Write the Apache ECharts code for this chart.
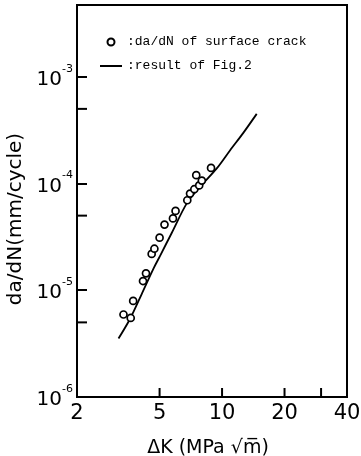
<!DOCTYPE html>
<html>
<head>
<meta charset="utf-8">
<script src="https://cdn.jsdelivr.net/npm/echarts@6/dist/echarts.min.js"></script>
<style>
html,body{margin:0;padding:0;background:#fff;}
#chart{width:361px;height:456px;}
</style>
</head>
<body>
<div id="chart"></div>
<script>
// ---- data ----
const xRange = [2, 40];
const yRange = [1e-6, 4.7e-3];
const xTickValues = [5, 10, 20, 30];
const xLabelValues = [2, 5, 10, 20, 40];
const yMinorTicks = [5e-6, 5e-5, 5e-4];

const surfaceDK = [3.35, 3.63, 3.73, 4.16, 4.30, 4.58, 4.72, 5.00, 5.28, 5.80, 5.97, 6.80, 7.01, 7.35, 7.51, 7.76, 7.99, 8.85];
const surfaceRate = [5.93e-6, 5.50e-6, 7.94e-6, 1.22e-5, 1.44e-5, 2.19e-5, 2.45e-5, 3.11e-5, 4.12e-5, 4.71e-5, 5.54e-5, 6.97e-5, 8.04e-5, 8.84e-5, 1.196e-4, 9.60e-5, 1.065e-4, 1.40e-4];

const fig2DK = [3.17, 3.60, 4.10, 4.66, 5.02, 5.72, 6.76, 7.83, 9.43, 10.92, 12.66, 14.69];
const fig2Rate = [3.53e-6, 5.38e-6, 9.22e-6, 1.58e-5, 2.09e-5, 3.44e-5, 6.51e-5, 9.29e-5, 1.385e-4, 2.04e-4, 2.98e-4, 4.49e-4];

const nameSurface = ':da/dN of surface crack';
const nameFig2 = ':result of Fig.2';

const chart = echarts.init(document.getElementById('chart'), null, {renderer: 'canvas'});

const option = {
  backgroundColor: '#fff',
  animation: false,
  grid: {left: 77, right: 14, top: 5, bottom: 59, containLabel: false, outerBoundsMode: 'none', show: true, borderColor: '#000', borderWidth: 2, backgroundColor: 'transparent'},
  legend: {
    data: [
      {name: nameSurface, icon: 'circle'},
      {name: nameFig2, icon: 'path://M0,0 L22,0 L22,2 L0,2 Z'}
    ],
    orient: 'vertical',
    left: 95,
    top: 29,
    itemWidth: 22,
    itemHeight: 7,
    itemGap: 8,
    textStyle: {fontFamily: 'Liberation Mono', fontSize: 13, color: '#000', lineHeight: 16}
  },
  xAxis: {
    type: 'log',
    logBase: 10,
    min: xRange[0],
    max: xRange[1],
    axisLine: {show: false},
    axisTick: {show: false},
    axisLabel: {show: false},
    splitLine: {show: false},
    name: 'ΔK (MPa √m\u0305)',
    nameLocation: 'middle',
    nameGap: 42,
    nameTextStyle: {fontFamily: 'DejaVu Sans', fontSize: 19, color: '#000', padding: [0, 8, 0, 0]}
  },
  yAxis: {
    type: 'log',
    logBase: 10,
    min: yRange[0],
    max: yRange[1],
    axisLine: {show: false},
    axisTick: {show: true, inside: true, length: 10, lineStyle: {color: '#000', width: 2}},
    splitLine: {show: false},
    axisLabel: {
      margin: 4,
      showMaxLabel: false,
      formatter: function (v) {
        const e = Math.round(Math.log10(v));
        return '{b|10}{s|' + e + '}';
      },
      rich: {
        b: {fontFamily: 'DejaVu Sans', fontSize: 20, color: '#000', lineHeight: 20, padding: [6, 0, 0, 0]},
        s: {fontFamily: 'DejaVu Sans', fontSize: 11, color: '#000', lineHeight: 11, padding: [0, 0, 16, 0]}
      }
    },
    name: 'da/dN(mm/cycle)',
    nameLocation: 'middle',
    nameRotate: 90,
    nameGap: 39,
    nameTextStyle: {fontFamily: 'DejaVu Sans', fontSize: 20, color: '#000', padding: [0, 36, 0, 0]}
  },
  series: [
    {
      name: nameSurface,
      type: 'scatter',
      symbol: 'circle',
      symbolSize: 7,
      itemStyle: {color: '#fff', borderColor: '#000', borderWidth: 1.7, opacity: 1},
      data: surfaceDK.map((x, i) => [x, surfaceRate[i]]),
      z: 3
    },
    {
      name: nameFig2,
      type: 'line',
      symbol: 'none',
      smooth: 0.3,
      lineStyle: {color: '#000', width: 1.8},
      itemStyle: {color: '#000'},
      data: fig2DK.map((x, i) => [x, fig2Rate[i]]),
      z: 2
    },
    {
      type: 'custom',
      silent: true,
      data: xTickValues.map(v => [v, yRange[0]]),
      renderItem: function (params, api) {
        const p = api.coord([api.value(0), api.value(1)]);
        return {type: 'line', shape: {x1: p[0], y1: p[1], x2: p[0], y2: p[1] - 9}, style: {stroke: '#000', lineWidth: 2}};
      }
    },
    {
      type: 'custom',
      silent: true,
      data: yMinorTicks.map(v => [xRange[0], v]),
      renderItem: function (params, api) {
        const p = api.coord([api.value(0), api.value(1)]);
        return {type: 'line', shape: {x1: p[0], y1: p[1], x2: p[0] + 10, y2: p[1]}, style: {stroke: '#000', lineWidth: 2}};
      }
    },
    {
      type: 'custom',
      silent: true,
      data: xLabelValues.map(v => [v, yRange[0]]),
      renderItem: function (params, api) {
        const p = api.coord([api.value(0), api.value(1)]);
        return {type: 'text', style: {text: String(api.value(0)), x: p[0], y: p[1] + 17, align: 'center', verticalAlign: 'middle', fontFamily: 'DejaVu Sans', fontSize: 21, fill: '#000'}};
      }
    }
  ]
};
chart.setOption(option);
</script>
</body>
</html>
